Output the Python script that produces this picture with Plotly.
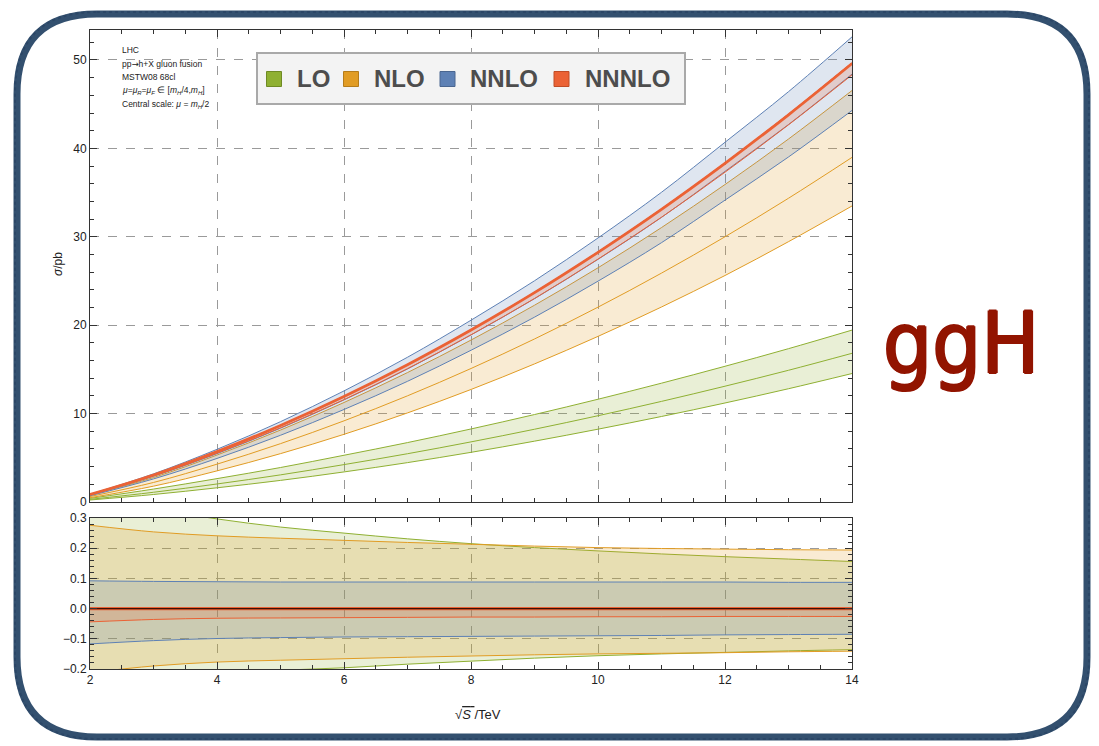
import plotly.graph_objects as go

# Collider energy sqrt(S) in TeV
energy = [2, 3, 4, 5, 6, 7, 8, 9, 10, 11, 12, 13, 14]

# Central cross sections (pb) at mu = mH/2, per perturbative order
lo_central = [0.30, 1.10, 2.04, 3.07, 4.23, 5.46, 6.80, 8.23, 9.76, 11.38, 13.10, 14.90, 16.82]
nlo_central = [0.62, 2.21, 4.28, 6.60, 9.18, 12.01, 15.10, 18.44, 22.04, 25.89, 30.00, 34.36, 38.98]
nnlo_central = [0.80, 2.92, 5.47, 8.35, 11.55, 15.05, 18.90, 23.00, 27.45, 32.20, 37.40, 42.70, 48.40]
n3lo_central = [0.85, 3.05, 5.70, 8.66, 11.94, 15.53, 19.45, 23.68, 28.24, 33.10, 38.30, 43.80, 49.60]

# Relative scale variation (mu in [mH/4, mH]) with respect to each central value
lo_up = [0.370, 0.330, 0.297, 0.270, 0.250, 0.231, 0.215, 0.202, 0.191, 0.181, 0.172, 0.164, 0.156]
lo_dn = [-0.250, -0.228, -0.213, -0.204, -0.196, -0.184, -0.174, -0.164, -0.156, -0.150, -0.145, -0.140, -0.136]
nlo_up = [0.276, 0.254, 0.241, 0.233, 0.226, 0.219, 0.213, 0.207, 0.202, 0.199, 0.197, 0.195, 0.194]
nlo_dn = [-0.212, -0.190, -0.177, -0.171, -0.166, -0.161, -0.157, -0.153, -0.150, -0.148, -0.146, -0.143, -0.141]
nnlo_up = [0.092, 0.090, 0.089, 0.088, 0.088, 0.088, 0.088, 0.088, 0.088, 0.088, 0.088, 0.087, 0.087]
nnlo_dn = [-0.117, -0.106, -0.099, -0.096, -0.094, -0.093, -0.092, -0.091, -0.090, -0.089, -0.087, -0.086, -0.085]
n3lo_up = [0.002, 0.002, 0.002, 0.002, 0.002, 0.002, 0.002, 0.002, 0.002, 0.002, 0.002, 0.002, 0.002]
n3lo_dn = [-0.044, -0.036, -0.032, -0.031, -0.030, -0.029, -0.028, -0.028, -0.027, -0.027, -0.026, -0.026, -0.026]

order_names = ["LO", "NLO", "NNLO", "NNNLO"]
order_colors = ["#8FB032", "#E19C24", "#5E81B5", "#EB6235"]
order_edges = ["#6f8a24", "#b57c1a", "#4a6690", "#c04c26"]

orders = [
    (lo_central, lo_dn, lo_up),
    (nlo_central, nlo_dn, nlo_up),
    (nnlo_central, nnlo_dn, nnlo_up),
    (n3lo_central, n3lo_dn, n3lo_up),
]

W, H = 1099, 746
FONT = "Liberation Sans, Arial, sans-serif"
AXC = "#333333"


def rgba(hexcol, a):
    h = hexcol.lstrip("#")
    return "rgba(%d,%d,%d,%.2f)" % (int(h[0:2], 16), int(h[2:4], 16), int(h[4:6], 16), a)


fig = go.Figure()

for (cen, dn, up), col, name in zip(orders, order_colors, order_names):
    lower = [c * (1 + d) for c, d in zip(cen, dn)]
    upper = [c * (1 + u) for c, u in zip(cen, up)]
    is_top = name == "NNNLO"
    # main panel: band + central curve
    fig.add_trace(go.Scatter(x=energy, y=lower, mode="lines", line=dict(color=col, width=1, shape="spline"),
                             xaxis="x", yaxis="y", showlegend=False, hoverinfo="skip"))
    fig.add_trace(go.Scatter(x=energy, y=upper, mode="lines", line=dict(color=col, width=1, shape="spline"),
                             fill="tonexty", fillcolor=rgba(col, 0.2),
                             xaxis="x", yaxis="y", showlegend=False, hoverinfo="skip"))
    fig.add_trace(go.Scatter(x=energy, y=cen, mode="lines",
                             line=dict(color=col, width=2.8 if is_top else 1, shape="spline"),
                             xaxis="x", yaxis="y", showlegend=False, hoverinfo="skip"))
    # ratio panel: relative band
    fig.add_trace(go.Scatter(x=energy, y=dn, mode="lines", line=dict(color=col, width=1, shape="spline"),
                             xaxis="x2", yaxis="y2", showlegend=False, hoverinfo="skip"))
    fig.add_trace(go.Scatter(x=energy, y=up, mode="lines", line=dict(color=col, width=1, shape="spline"),
                             fill="tonexty", fillcolor=rgba(col, 0.2),
                             xaxis="x2", yaxis="y2", showlegend=False, hoverinfo="skip"))

# central curves normalised to themselves sit on zero in the ratio panel
for (cen, dn, up), col, name in zip(orders, order_colors, order_names):
    fig.add_trace(go.Scatter(x=energy, y=[c / c - 1 for c in cen], mode="lines",
                             line=dict(color=col, width=3.2 if name == "NNNLO" else 1),
                             xaxis="x2", yaxis="y2", showlegend=False, hoverinfo="skip"))
fig.add_trace(go.Scatter(x=energy, y=[c / c - 1 for c in n3lo_central], mode="lines",
                         line=dict(color="#3a1206", width=1.4),
                         xaxis="x2", yaxis="y2", showlegend=False, hoverinfo="skip"))

xdom = [90 / W, 852 / W]
common_x = dict(range=[2, 14], tick0=2, dtick=2, ticks="inside", ticklen=7, tickwidth=1, tickcolor=AXC,
                minor=dict(ticks="inside", dtick=0.5, ticklen=4, tickcolor=AXC, showgrid=False),
                showline=True, linecolor=AXC, linewidth=1, mirror="allticks", automargin=False,
                showgrid=True, gridcolor="#9a9a9a", griddash="dash", gridwidth=1, zeroline=False,
                tickfont=dict(family=FONT, size=12, color="#222"))
common_y = dict(ticks="inside", ticklen=7, tickwidth=1, tickcolor=AXC,
                showline=True, linecolor=AXC, linewidth=1, mirror="allticks", automargin=False,
                showgrid=True, gridcolor="#9a9a9a", griddash="dash", gridwidth=1, zeroline=False,
                tickfont=dict(family=FONT, size=12, color="#222"))

fig.update_layout(
    template="none",
    width=W, height=H, margin=dict(l=0, r=0, t=0, b=0, pad=0, autoexpand=False),
    paper_bgcolor="white", plot_bgcolor="white", showlegend=False,
    xaxis=dict(domain=xdom, anchor="y", showticklabels=False, **common_x),
    xaxis2=dict(domain=xdom, anchor="y2", showticklabels=True, **common_x),
    yaxis=dict(domain=[1 - 502 / H, 1 - 30 / H], range=[0, 53.39], tick0=0, dtick=10,
               minor=dict(ticks="inside", dtick=2, ticklen=4, tickcolor=AXC, showgrid=False),
               anchor="x", **common_y),
    yaxis2=dict(domain=[1 - 669 / H, 1 - 518 / H], range=[-0.2, 0.3], tick0=0, dtick=0.1, tickformat=".1f",
                minor=dict(ticks="inside", dtick=0.02, ticklen=4, tickcolor=AXC, showgrid=False),
                anchor="x2", **common_y),
)


def px(x, y):
    return x / W, 1 - y / H


annotations = []
shapes = []

# process / setup labels in the upper-left corner
ARROW = "<span style='font-family:DejaVu Sans'>→</span>"
info_lines = [
    "LHC",
    "pp" + ARROW + "h+X gluon fusion",
    "MSTW08 68cl",
    "<i>μ</i>=<i>μ</i><sub><i>R</i></sub>=<i>μ</i><sub><i>F</i></sub> ∈ [<i>m</i><sub><i>H</i></sub>/4,<i>m</i><sub><i>H</i></sub>]",
    "Central scale: <i>μ</i> = <i>m</i><sub><i>H</i></sub>/2",
]
for i, t in enumerate(info_lines):
    xx, yy = px(120, 50.5 + i * 13.4)
    annotations.append(dict(text=t, x=xx, y=yy, xref="paper", yref="paper", xanchor="left", yanchor="middle",
                            showarrow=False, font=dict(family=FONT, size=8.5, color="#222")))

# legend box
lx0, ly0 = px(257, 53)
lx1, ly1 = px(685, 104)
shapes.append(dict(type="rect", xref="paper", yref="paper", x0=lx0, y0=ly1, x1=lx1, y1=ly0,
                   fillcolor="#f3f3f3", line=dict(color="#a9a9a9", width=2), layer="above"))
swatch_x = [274, 351, 447.5, 561.5]
text_x = [295, 371.5, 468, 583]
for sx, tx, col, edge, name in zip(swatch_x, text_x, order_colors, order_edges, order_names):
    a0, b0 = px(sx - 7.5, 71.5)
    a1, b1 = px(sx + 7.5, 86.5)
    shapes.append(dict(type="rect", xref="paper", yref="paper", x0=a0, y0=b1, x1=a1, y1=b0,
                       fillcolor=col, line=dict(color=edge, width=1), layer="above"))
    tx0, ty0 = px(tx, 79)
    annotations.append(dict(text="<b>%s</b>" % name, x=tx0, y=ty0, xref="paper", yref="paper",
                            xanchor="left", yanchor="middle", showarrow=False,
                            font=dict(family=FONT, size=24, color="#4d4d4d")))

# axis titles
ax_, ay_ = px(58, 264)
annotations.append(dict(text="<i>σ</i>/pb", x=ax_, y=ay_, xref="paper", yref="paper", textangle=-90,
                        xanchor="center", yanchor="middle",
                        showarrow=False, font=dict(family=FONT, size=12, color="#222")))
bx_, by_ = px(478, 714)
annotations.append(dict(text="√<span style='text-decoration:overline'><i>S</i> </span>/TeV", x=bx_, y=by_,
                        xref="paper", yref="paper", showarrow=False, xanchor="center", yanchor="middle",
                        font=dict(family=FONT, size=13, color="#222")))

# process label on the right
gx, gy = px(961, 343)
thick = "1.2px 0 0 #921400, -1.2px 0 0 #921400, 0 1.2px 0 #921400, 0 -1.2px 0 #921400"
annotations.append(dict(text="ggH", x=gx, y=gy, xref="paper", yref="paper", showarrow=False,
                        xanchor="center", yanchor="middle",
                        font=dict(family="DejaVu Sans Condensed, DejaVu Sans, sans-serif", size=86,
                                  color="#921400", shadow=thick)))


# rounded frame around the whole graphic
def rounded_path(x0, y0, x1, y1, r):
    pts = [
        ("M", [(x0 + r, y0)]),
        ("L", [(x1 - r, y0)]),
        ("Q", [(x1, y0), (x1, y0 + r)]),
        ("L", [(x1, y1 - r)]),
        ("Q", [(x1, y1), (x1 - r, y1)]),
        ("L", [(x0 + r, y1)]),
        ("Q", [(x0, y1), (x0, y1 - r)]),
        ("L", [(x0, y0 + r)]),
        ("Q", [(x0, y0), (x0 + r, y0)]),
    ]
    out = []
    for cmd, ps in pts:
        out.append(cmd + " " + " ".join("%.5f,%.5f" % px(a, b) for a, b in ps))
    return " ".join(out) + " Z"


shapes.append(dict(type="path", xref="paper", yref="paper", path=rounded_path(17, 14, 1087, 737, 80),
                   line=dict(color="#33506f", width=7), layer="above"))
shapes.append(dict(type="path", xref="paper", yref="paper", path=rounded_path(15, 12, 1089, 739, 82),
                   line=dict(color="#2b4666", width=2, dash="dot"), layer="above"))

fig.update_layout(annotations=annotations, shapes=shapes)
fig.write_html("out.html")
